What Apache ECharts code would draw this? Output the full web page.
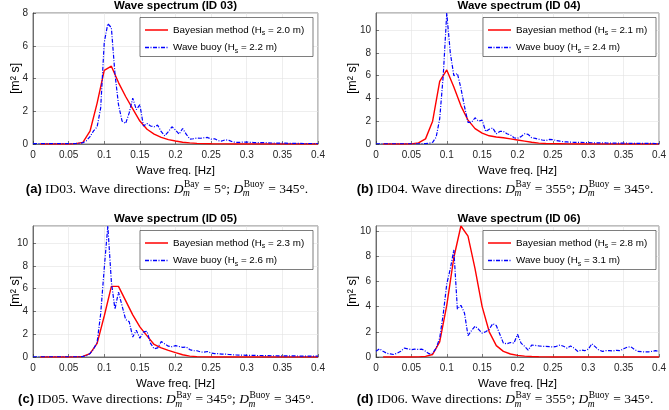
<!DOCTYPE html>
<html><head><meta charset="utf-8">
<script src="https://cdn.jsdelivr.net/npm/echarts@6/dist/echarts.min.js"></script>
<style>html,body{margin:0;padding:0;background:#fff}#c{width:669px;height:410px}</style>
</head><body><div id="c"></div>
<script>
// ---------------- data ----------------
const freqBay = [0.01,0.02,0.03,0.04,0.05,0.06,0.07,0.08,0.09,0.10,0.11,0.12,0.13,0.14,0.15,0.16,0.17,0.18,0.19,0.20,0.21,0.22,0.23,0.24,0.25,0.26,0.27,0.28,0.29,0.30,0.31,0.32,0.33,0.34,0.35,0.36,0.37,0.38,0.39,0.40];
const freqBuoy = [0,0.005,0.01,0.015,0.02,0.025,0.03,0.035,0.04,0.045,0.05,0.055,0.06,0.065,0.07,0.075,0.08,0.085,0.09,0.095,0.1,0.105,0.11,0.115,0.12,0.125,0.13,0.135,0.14,0.145,0.15,0.155,0.16,0.165,0.17,0.175,0.18,0.185,0.19,0.195,0.2,0.205,0.21,0.215,0.22,0.225,0.23,0.235,0.24,0.245,0.25,0.255,0.26,0.265,0.27,0.275,0.28,0.285,0.29,0.295,0.3,0.305,0.31,0.315,0.32,0.325,0.33,0.335,0.34,0.345,0.35,0.355,0.36,0.365,0.37,0.375,0.38,0.385,0.39,0.395,0.4];

const bayA = [0,0,0,0,0,0.02,0.1,0.78,2.5,4.5, 4.75,3.75,2.9,2.15,1.4,0.9,0.6,0.4,0.27,0.18, 0.11,0.07,0.04,0.025,0.015,0.01,0.005,0,0,0, 0,0,0,0,0,0,0,0,0,0];
const bayB = [0,0,0,0,0.01,0.1,0.45,2.0,5.5,6.5, 5.0,3.35,2.1,1.35,0.95,0.72,0.62,0.55,0.45,0.35, 0.25,0.15,0.08,0.05,0.03,0.02,0.01,0,0,0, 0,0,0,0,0,0,0,0,0,0];
const bayC = [0,0,0,0,0,0.01,0.05,0.3,1.2,3.6, 6.2,6.2,4.95,3.7,2.65,1.85,1.1,0.8,0.58,0.38, 0.2,0.08,0.03,0.01,0,0,0,0,0,0, 0,0,0,0,0,0,0,0,0,0];
const bayD = [0,0,0,0,0,0.01,0.05,0.2,1.2,4.1, 7.9,10.4,9.6,7.0,4.0,2.0,0.9,0.45,0.24,0.13, 0.07,0.04,0.02,0.01,0,0,0,0,0,0, 0,0,0,0,0,0,0,0,0,0];

const buoyA = [0.02,0.02,0.02,0.02,0.02,0.02,0.02,0.02,0.02,0.02,
  0.02,0.02,0.03,0.04,0.08,0.2,0.45,0.8,1.05,2.2,
  6.2,7.35,7.1,4.3,2.4,1.4,1.25,1.9,2.8,2.1,
  2.4,1.1,1.25,1.1,1.05,1.15,0.75,0.5,0.75,1.05,
  0.85,0.6,0.95,0.6,0.3,0.32,0.36,0.35,0.38,0.4,
  0.3,0.32,0.2,0.18,0.26,0.22,0.13,0.1,0.1,0.12,
  0.12,0.1,0.09,0.08,0.08,0.09,0.07,0.06,0.06,0.05,
  0.05,0.05,0.04,0.04,0.04,0.04,0.03,0.03,0.03,0.03,0.03];
const buoyB = [0.02,0.02,0.02,0.02,0.02,0.02,0.02,0.02,0.02,0.02,
  0.02,0.02,0.02,0.02,0.03,0.06,0.15,0.6,2.2,6.0,
  11.5,8.0,6.0,6.2,4.9,3.3,1.9,1.9,2.3,2.0,
  2.1,1.1,1.3,1.4,0.9,1.1,1.1,0.9,0.8,0.55,
  0.5,0.65,0.9,0.85,0.55,0.5,0.42,0.35,0.3,0.4,
  0.38,0.3,0.25,0.2,0.18,0.16,0.15,0.15,0.15,0.13,
  0.12,0.11,0.1,0.1,0.09,0.09,0.08,0.08,0.08,0.07,
  0.07,0.07,0.06,0.06,0.06,0.05,0.05,0.05,0.05,0.04,0.04];
const buoyC = [0.02,0.02,0.02,0.02,0.02,0.02,0.02,0.02,0.02,0.02,
  0.02,0.02,0.02,0.03,0.05,0.12,0.3,0.7,1.3,3.8,
  7.8,11.5,6.6,4.2,5.7,4.5,3.3,3.1,1.75,2.35,
  1.65,2.2,2.25,1.2,0.72,0.8,1.35,1.15,0.95,0.9,
  1.0,0.92,0.85,0.88,0.65,0.55,0.55,0.45,0.42,0.48,
  0.35,0.3,0.3,0.25,0.25,0.22,0.2,0.18,0.17,0.16,
  0.15,0.15,0.14,0.13,0.13,0.12,0.12,0.11,0.11,0.1,
  0.1,0.1,0.09,0.09,0.09,0.08,0.08,0.08,0.08,0.07,0.07];
const buoyD = [0.45,0.65,0.45,0.3,0.25,0.2,0.3,0.45,0.7,0.65,
  0.58,0.62,0.6,0.62,0.45,0.25,0.3,0.7,1.5,3.4,
  5.8,7.0,8.5,3.8,4.1,3.5,1.7,2.1,2.45,2.2,
  1.9,2.0,2.2,2.65,2.5,1.8,1.1,1.05,1.15,1.1,
  1.8,1.1,0.85,0.55,0.95,0.92,0.88,0.85,0.85,0.82,
  0.8,0.85,0.95,0.85,0.7,0.88,0.7,0.45,0.55,0.5,
  0.62,1.05,0.8,0.55,0.45,0.5,0.5,0.48,0.53,0.5,
  0.65,0.78,0.82,0.6,0.45,0.42,0.4,0.4,0.45,0.5,0.45];

const bayValues = [bayA, bayB, bayC, bayD];
const buoyValues = [buoyA, buoyB, buoyC, buoyD];
const titles = ['Wave spectrum (ID 03)','Wave spectrum (ID 04)','Wave spectrum (ID 05)','Wave spectrum (ID 06)'];
const hsBay = ['2.0','2.1','2.3','2.8'];
const hsBuoy = ['2.2','2.4','2.6','3.1'];
const yMax = [8, 11.5, 11.5, 10.4];
const xLabel = 'Wave freq. [Hz]';
const yLabel = '[m² s]';
const captionTags = ['(a)','(b)','(c)','(d)'];
const captionIds = ['ID03','ID04','ID05','ID06'];
const dirBay = ['5','355','345','355'];
const dirBuoy = ['345','345','345','345'];

// ---------------- layout ----------------
const FONT = "'Liberation Sans', Arial, Helvetica, sans-serif";
const SERIF = "'Liberation Serif', 'Times New Roman', serif";
const AX = '#262626';
const layout = [
  {left:33,  top:13,  width:285, height:131, yGap:11, cx:167, cy:189},
  {left:376, top:13,  width:286, height:131, yGap:17, cx:505, cy:189},
  {left:33,  top:226, width:285, height:131, yGap:11, cx:166, cy:399.5},
  {left:376, top:226, width:286, height:131, yGap:17, cx:505, cy:399.5}
];

const ctx = document.createElement('canvas').getContext('2d');
function tw(text, style, weight, size, fam) {
  ctx.font = `${style} ${weight} ${size}px ${fam}`;
  return ctx.measureText(text).width;
}

const RICH = {
  a: {fontSize:9.8, fontFamily:FONT, fill:'#000', lineHeight:14},
  s: {fontSize:7, fontFamily:FONT, fill:'#000', lineHeight:7, verticalAlign:'bottom'}
};

function legendGroup(L, i) {
  const w = 173, h = 39, r1 = 12.5, r2 = 30;
  return {type:'group', x:L.left + 107, y:L.top + 4.5, z:100, children:[
    {type:'rect', z:100, shape:{x:0, y:0, width:w, height:h}, style:{fill:'#fff', stroke:AX, lineWidth:0.6}},
    {type:'line', z:101, shape:{x1:5, y1:r1, x2:28, y2:r1}, style:{stroke:'#ff0000', lineWidth:1.5}},
    {type:'text', z:101, x:33, y:r1, style:{text:'{a|Bayesian method (H}{s|s}{a| = ' + hsBay[i] + ' m)}', rich:RICH, align:'left', verticalAlign:'middle'}},
    {type:'line', z:101, shape:{x1:5, y1:r2, x2:28, y2:r2}, style:{stroke:'#0000ff', lineWidth:1.3, lineDash:[4,1.5,1,1.5]}},
    {type:'text', z:101, x:33, y:r2, style:{text:'{a|Wave buoy (H}{s|s}{a| = ' + hsBuoy[i] + ' m)}', rich:RICH, align:'left', verticalAlign:'middle'}}
  ]};
}

function captionGroup(L, i) {
  const M = 13.5, S = 9.5;
  const pieces = [
    {t:captionTags[i], st:'normal', wt:'bold', sz:13, fam:FONT},
    {t:' ' + captionIds[i] + '. Wave directions: ', st:'normal', wt:'normal', sz:M, fam:SERIF},
    {t:'D', st:'italic', wt:'normal', sz:M, fam:SERIF},
    {sup:'Bay', sub:'m'},
    {t:' = ' + dirBay[i] + '°; ', st:'normal', wt:'normal', sz:M, fam:SERIF},
    {t:'D', st:'italic', wt:'normal', sz:M, fam:SERIF},
    {sup:'Buoy', sub:'m'},
    {t:' = ' + dirBuoy[i] + '°.', st:'normal', wt:'normal', sz:M, fam:SERIF}
  ];
  let widths = pieces.map(p => p.sup
    ? Math.max(tw(p.sup,'normal','normal',S,SERIF), tw(p.sub,'italic','normal',S,SERIF)) + 1
    : tw(p.t, p.st, p.wt, p.sz, p.fam));
  const total = widths.reduce((a,b)=>a+b,0);
  let x = L.cx - total/2;
  const kids = [];
  pieces.forEach((p, k) => {
    if (p.sup) {
      kids.push({type:'text', x:x + 0.5, y:L.cy - 4.2, style:{text:p.sup, fontSize:S, fontFamily:SERIF, fill:'#000', align:'left', verticalAlign:'middle'}});
      kids.push({type:'text', x:x - 0.5, y:L.cy + 4.6, style:{text:p.sub, fontSize:S, fontStyle:'italic', fontFamily:SERIF, fill:'#000', align:'left', verticalAlign:'middle'}});
    } else {
      kids.push({type:'text', x:x, y:L.cy, style:{text:p.t, fontSize:p.sz, fontStyle:p.st, fontWeight:p.wt, fontFamily:p.fam, fill:'#000', align:'left', verticalAlign:'middle'}});
    }
    x += widths[k];
  });
  return {type:'group', children:kids};
}

const graphics = [];
layout.forEach((L, i) => {
  graphics.push({type:'text', x:L.left + L.width/2, y:L.top - 7.5, style:{text:titles[i], fontSize:11.5, fontWeight:'bold', fontFamily:FONT, fill:'#000', align:'center', verticalAlign:'middle'}});
  graphics.push(legendGroup(L, i));
  graphics.push(captionGroup(L, i));
});

const option = {
  animation:false,
  backgroundColor:'#fff',
  grid: layout.map(L => ({left:L.left, top:L.top, width:L.width, height:L.height, show:true, borderColor:AX, borderWidth:0.6, backgroundColor:'#fff'})),
  xAxis: layout.map((L, i) => ({
    gridIndex:i, type:'value', min:0, max:0.4, interval:0.05,
    name:xLabel, nameLocation:'middle', nameGap:21, nameMoveOverlap:false,
    nameTextStyle:{fontFamily:FONT, fontSize:11.5, color:'#000'},
    axisLine:{lineStyle:{color:AX, width:0.6}},
    axisTick:{inside:true, length:3, lineStyle:{color:AX, width:0.6}},
    axisLabel:{fontFamily:FONT, fontSize:10, color:AX, margin:6, formatter:v => String(+v.toFixed(2))},
    splitLine:{show:true, lineStyle:{color:'#e3e3e3', width:0.6}}
  })),
  yAxis: layout.map((L, i) => ({
    gridIndex:i, type:'value', min:0, max:yMax[i], interval:2,
    name:yLabel, nameLocation:'middle', nameGap:L.yGap, nameMoveOverlap:false,
    nameTextStyle:{fontFamily:FONT, fontSize:12.5, color:'#000'},
    axisLine:{show:true, lineStyle:{color:AX, width:0.6}},
    axisTick:{show:true, inside:true, length:3, lineStyle:{color:AX, width:0.6}},
    axisLabel:{fontFamily:FONT, fontSize:10, color:AX, margin:5, showMaxLabel: yMax[i] % 2 === 0},
    splitLine:{show:true, lineStyle:{color:'#e3e3e3', width:0.6}}
  })),
  series: [].concat(...layout.map((L, i) => [
    {type:'line', name:'Bayesian method (Hs = ' + hsBay[i] + ' m)', xAxisIndex:i, yAxisIndex:i, symbol:'none', z:2,
     data:freqBay.map((f, k) => [f, bayValues[i][k]]), lineStyle:{color:'#ff0000', width:1.4}},
    {type:'line', name:'Wave buoy (Hs = ' + hsBuoy[i] + ' m)', xAxisIndex:i, yAxisIndex:i, symbol:'none', z:3,
     data:freqBuoy.map((f, k) => [f, buoyValues[i][k]]), lineStyle:{color:'#0000ff', width:1.2, type:[4,1.5,1,1.5]}}
  ])),
  graphic: graphics
};
const chart = echarts.init(document.getElementById('c'), null, {renderer:'canvas'});
chart.setOption(option);
</script></body></html>
